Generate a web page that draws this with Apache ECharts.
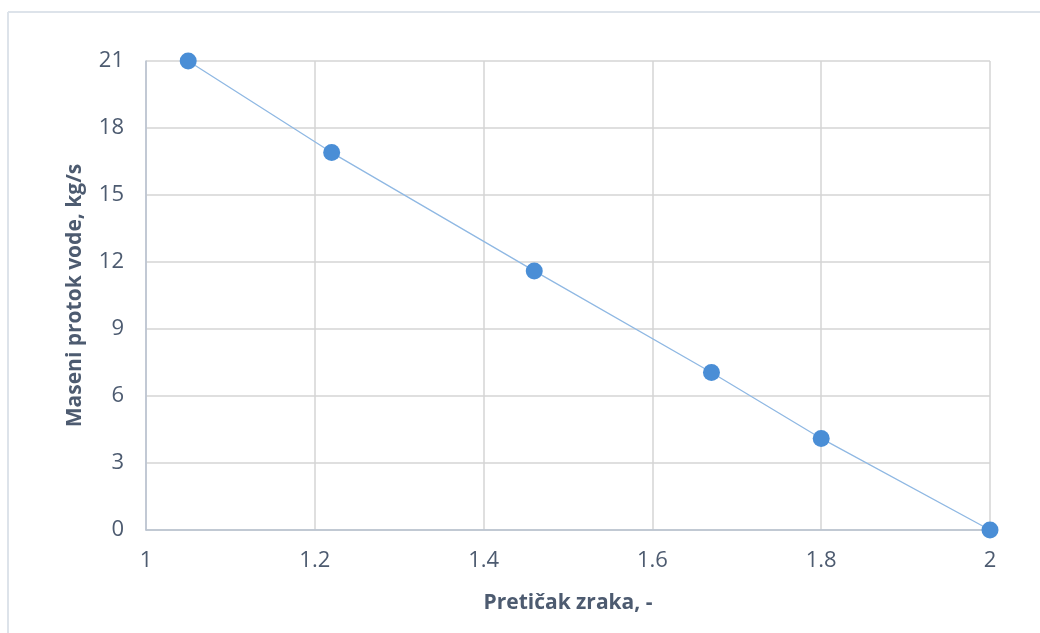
<!DOCTYPE html>
<html>
<head>
<meta charset="utf-8">
<script src="https://cdn.jsdelivr.net/npm/echarts@6/dist/echarts.min.js"></script>
<style>html,body{margin:0;padding:0;background:#fff}#c{width:1040px;height:633px}</style>
</head>
<body>
<div id="c"></div>
<script>
const xValues = [1.05, 1.22, 1.46, 1.67, 1.80, 2.0];
const yValues = [21, 16.9, 11.6, 7.05, 4.1, 0];
const xTitle = 'Pretičak zraka, -';
const yTitle = 'Maseni protok vode, kg/s';

const data = xValues.map((x, i) => [x, yValues[i]]);
const textColor = '#4d5b70';
const font = '"Open Sans", sans-serif';
const chart = echarts.init(document.getElementById('c'));
chart.setOption({
  animation: false,
  graphic: [
    {type: 'line', shape: {x1: 8, y1: 12, x2: 1040, y2: 12}, style: {stroke: '#dde3ea', lineWidth: 2}},
    {type: 'line', shape: {x1: 8, y1: 12, x2: 8, y2: 633}, style: {stroke: '#dde3ea', lineWidth: 2}}
  ],
  grid: {left: 146, right: 50, top: 61, bottom: 103},
  xAxis: {
    type: 'value', min: 1, max: 2, interval: 0.2,
    name: xTitle, nameLocation: 'middle', nameGap: 63,
    nameTextStyle: {color: textColor, fontFamily: font, fontSize: 21, fontWeight: 'bold'},
    axisLine: {show: true, lineStyle: {color: '#b8c2d0', width: 1.5}},
    axisTick: {show: false},
    axisLabel: {color: textColor, fontFamily: font, fontSize: 22, margin: 20},
    splitLine: {show: true, lineStyle: {color: '#d4d4d4', width: 1.5}}
  },
  yAxis: {
    type: 'value', min: 0, max: 21, interval: 3,
    name: yTitle, nameLocation: 'middle', nameGap: 60,
    nameTextStyle: {color: textColor, fontFamily: font, fontSize: 21, fontWeight: 'bold'},
    axisLine: {show: true, lineStyle: {color: '#b8c2d0', width: 1.5}},
    axisTick: {show: false},
    axisLabel: {color: textColor, fontFamily: font, fontSize: 22, margin: 22},
    splitLine: {show: true, lineStyle: {color: '#d4d4d4', width: 1.5}}
  },
  series: [{
    type: 'line', data: data,
    symbol: 'circle', symbolSize: 17,
    lineStyle: {color: '#8fb8e3', width: 1.3},
    itemStyle: {color: '#4a8ed6'},
    z: 3
  }]
});
</script>
</body>
</html>
